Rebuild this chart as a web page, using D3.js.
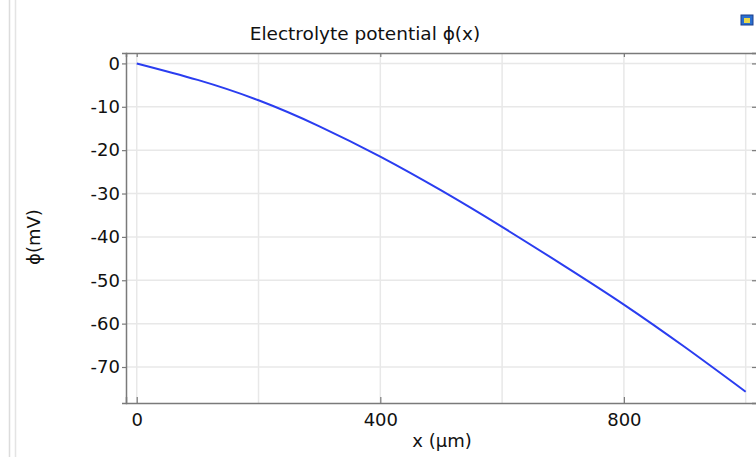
<!DOCTYPE html>
<html>
<head>
  <meta charset="utf-8">
  <title>Electrolyte potential</title>
  <script src="https://cdn.jsdelivr.net/npm/d3@7"></script>
  <style>
    body { margin: 0; background: #fff; }
    text { font-family: "DejaVu Sans", sans-serif; fill: #111; }
  </style>
</head>
<body>
<script>
// values
var xPos = [0, 100, 200, 300, 400, 500, 600, 700, 800, 900, 1000];   // x (um)
var phi = [0, -3.8, -8.5, -14.5, -21.5, -29.3, -37.7, -46.5, -55.6, -65.4, -75.7]; // mV
var xTicks = [0, 400, 800];
var xGrid = [0, 200, 400, 600, 800, 1000];
var yTicks = [0, -10, -20, -30, -40, -50, -60, -70];

var w = 756, h = 457;
var mLeft = 126, mRight = 757, mTop = 53, mBottom = 403;

var svg = d3.select("body").append("svg")
  .attr("width", w)
  .attr("height", h);

var x = d3.scaleLinear().domain([-17.6, 1018.6]).range([mLeft, mRight]);
var y = d3.scaleLinear().domain([-78.3, 2.4]).range([mBottom, mTop]);

// panel edge lines on the far left
svg.append("line").attr("x1", 9.5).attr("x2", 9.5).attr("y1", 0).attr("y2", h)
  .attr("stroke", "#dcdcdc").attr("stroke-width", 1.5);
svg.append("line").attr("x1", 15.5).attr("x2", 15.5).attr("y1", 0).attr("y2", h)
  .attr("stroke", "#e4e4e4").attr("stroke-width", 1.5);

// small icon top right
svg.append("rect").attr("x", 741).attr("y", 15).attr("width", 12).attr("height", 10)
  .attr("fill", "#2a6fd0").attr("stroke", "#1d3f8a");
svg.append("rect").attr("x", 744).attr("y", 18).attr("width", 6).attr("height", 5)
  .attr("fill", "#e8d84a");

// grid
svg.append("g").selectAll("line").data(xGrid).enter().append("line")
  .attr("x1", function(d) { return x(d); })
  .attr("x2", function(d) { return x(d); })
  .attr("y1", mTop).attr("y2", mBottom)
  .attr("stroke", "#e8e8e8").attr("stroke-width", 1.5);
svg.append("g").selectAll("line").data(yTicks).enter().append("line")
  .attr("x1", mLeft).attr("x2", mRight)
  .attr("y1", function(d) { return y(d); })
  .attr("y2", function(d) { return y(d); })
  .attr("stroke", "#e8e8e8").attr("stroke-width", 1.5);

// axes (plain hyphen for negatives, like the original)
var fmt = function(d) { return String(d); };
var yAxis = d3.axisLeft(y).tickValues(yTicks).tickSize(4).tickPadding(2).tickFormat(fmt);
var gy = svg.append("g").attr("transform", "translate(" + mLeft + ",0)").call(yAxis);
var xAxis = d3.axisBottom(x).tickValues(xTicks).tickSize(-6).tickPadding(10).tickFormat(fmt);
var gx = svg.append("g").attr("transform", "translate(0," + mBottom + ")").call(xAxis);
var gtop = svg.append("g").attr("transform", "translate(0," + mTop + ")")
  .call(d3.axisTop(x).tickValues(xTicks).tickSize(-4).tickFormat(""));
var gright = svg.append("g").attr("transform", "translate(" + mRight + ",0)")
  .call(d3.axisRight(y).tickValues(yTicks).tickSize(-5).tickFormat(""));

[gy, gx, gtop, gright].forEach(function(g) {
  g.select(".domain").attr("stroke", "#7a7a7a").attr("stroke-width", 1.5);
  g.selectAll(".tick line").attr("stroke", "#7a7a7a").attr("stroke-width", 1.2);
  g.selectAll("text").attr("font-size", "18px").attr("font-family", "DejaVu Sans, sans-serif")
    .attr("fill", "#111");
});

// curve
var line = d3.line()
  .x(function(d, i) { return x(xPos[i]); })
  .y(function(d) { return y(d); })
  .curve(d3.curveNatural);

svg.append("path").datum(phi)
  .attr("d", line)
  .attr("fill", "none")
  .attr("stroke", "#2a3df0")
  .attr("stroke-width", 2);

// labels
svg.append("text").attr("x", 365).attr("y", 40).attr("text-anchor", "middle")
  .attr("font-size", "18.5px").text("Electrolyte potential \u03D5(x)");
svg.append("text").attr("x", 442).attr("y", 447).attr("text-anchor", "middle")
  .attr("font-size", "18px").text("x (\u03BCm)");
svg.append("text")
  .attr("transform", "translate(40,237) rotate(-90)")
  .attr("text-anchor", "middle")
  .attr("font-size", "18px").text("\u03D5(mV)");
</script>
</body>
</html>
